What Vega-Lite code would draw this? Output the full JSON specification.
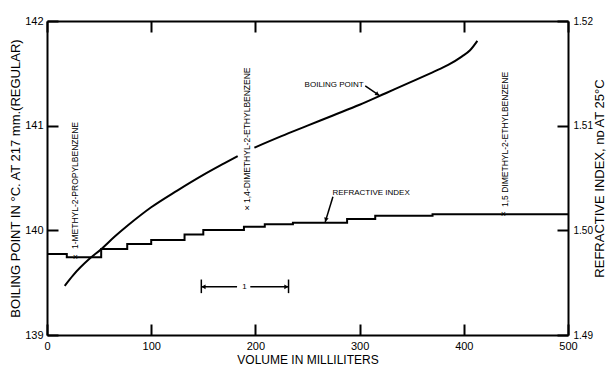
{
  "$schema": "https://vega.github.io/schema/vega-lite/v6.json",
  "width": 521,
  "height": 314,
  "autosize": "none",
  "padding": {"left": 47, "top": 21, "right": 39, "bottom": 32},
  "background": "white",
  "config": {
    "view": {"stroke": null},
    "font": "Liberation Sans",
    "axis": {
      "domainColor": "black", "domainWidth": 2,
      "tickColor": "black", "tickWidth": 2, "tickSize": -11,
      "labelColor": "black", "labelFont": "Liberation Sans", "labelFontSize": 11,
      "titleColor": "black", "titleFont": "Liberation Sans", "titleFontWeight": "normal",
      "grid": false
    }
  },
  "datasets": {
    "bp": [
      {"x": 17, "bp": 139.47, "seg": "a"}, {"x": 25, "bp": 139.57, "seg": "a"}, {"x": 41, "bp": 139.73, "seg": "a"},
      {"x": 52, "bp": 139.82, "seg": "a"}, {"x": 65, "bp": 139.94, "seg": "a"}, {"x": 78, "bp": 140.05, "seg": "a"},
      {"x": 100, "bp": 140.22, "seg": "a"}, {"x": 125, "bp": 140.38, "seg": "a"}, {"x": 150, "bp": 140.53, "seg": "a"},
      {"x": 170, "bp": 140.64, "seg": "a"}, {"x": 183, "bp": 140.71, "seg": "a"},
      {"x": 199, "bp": 140.79, "seg": "b"}, {"x": 225, "bp": 140.9, "seg": "b"}, {"x": 250, "bp": 141.0, "seg": "b"},
      {"x": 275, "bp": 141.1, "seg": "b"}, {"x": 300, "bp": 141.2, "seg": "b"},
      {"x": 325, "bp": 141.31, "seg": "b"}, {"x": 350, "bp": 141.42, "seg": "b"},
      {"x": 370, "bp": 141.51, "seg": "b"}, {"x": 385, "bp": 141.58, "seg": "b"},
      {"x": 398, "bp": 141.66, "seg": "b"}, {"x": 406, "bp": 141.72, "seg": "b"}, {"x": 413, "bp": 141.81, "seg": "b"}
    ],
    "ri": [
      {"x": 0, "ri": 1.49774}, {"x": 19, "ri": 1.49742}, {"x": 52, "ri": 1.49821}, {"x": 77, "ri": 1.49869},
      {"x": 100, "ri": 1.49907}, {"x": 132, "ri": 1.4996}, {"x": 150, "ri": 1.50003}, {"x": 189, "ri": 1.50034},
      {"x": 209, "ri": 1.50057}, {"x": 236, "ri": 1.50073}, {"x": 288, "ri": 1.50108}, {"x": 315, "ri": 1.50139},
      {"x": 370, "ri": 1.50153}, {"x": 500, "ri": 1.50156}
    ],
    "xmarks": [
      {"x": 27.3, "ri": 1.49745}, {"x": 192, "ri": 1.5021}, {"x": 438, "ri": 1.50156}
    ],
    "vlabels": [
      {"x": 27.3, "ri": 1.49821, "label": "1-METHYL-2-PROPYLBENZENE"},
      {"x": 192, "ri": 1.50261, "label": "1,4-DIMETHYL-2-ETHYLBENZENE"},
      {"x": 439.5, "ri": 1.50223, "label": "1,5 DIMETHYL-2-ETHYLBENZENE"}
    ],
    "hlabels": [
      {"x": 275.6, "bp": 141.39, "label": "BOILING POINT"},
      {"x": 311, "bp": 140.36, "label": "REFRACTIVE INDEX"},
      {"x": 189.4, "bp": 139.46, "label": "1"}
    ],
    "leaders": [
      {"x": 305.4, "bp": 141.38, "x2": 318.8, "bp2": 141.29},
      {"x": 274.4, "bp": 140.32, "x2": 267, "bp2": 140.08},
      {"x": 148.1, "bp": 139.46, "x2": 182.4, "bp2": 139.46},
      {"x": 195.1, "bp": 139.46, "x2": 231.8, "bp2": 139.46},
      {"x": 148.1, "bp": 139.53, "x2": 148.1, "bp2": 139.4},
      {"x": 231.8, "bp": 139.53, "x2": 231.8, "bp2": 139.4}
    ],
    "arrows": [
      {"x": 317.2, "bp": 141.3, "dir": 35.5},
      {"x": 267.6, "bp": 140.1, "dir": 107},
      {"x": 150.2, "bp": 139.46, "dir": 180},
      {"x": 229.7, "bp": 139.46, "dir": 0}
    ]
  },
  "layer": [
    {
      "encoding": {
        "x": {"field": "x", "type": "quantitative", "scale": {"domain": [0, 500], "nice": false, "zero": false},
          "axis": {"orient": "bottom", "values": [0, 100, 200, 300, 400, 500], "labelFlush": false, "labelPadding": 16,
            "title": "VOLUME IN MILLILITERS", "titleFontSize": 12, "titlePadding": 3}},
        "y": {"field": "bp", "type": "quantitative", "scale": {"domain": [139, 142], "nice": false, "zero": false},
          "axis": {"orient": "left", "values": [139, 140, 141, 142], "format": "d", "labelPadding": 15,
            "title": "BOILING POINT IN °C. AT 217 mm.(REGULAR)", "titleFontSize": 13, "titlePadding": 2}}
      },
      "layer": [
        {
          "data": {"name": "bp"},
          "mark": {"type": "line", "color": "black", "strokeWidth": 2, "interpolate": "monotone"},
          "encoding": {"detail": {"field": "seg"}}
        },
        {
          "data": {"name": "leaders"},
          "mark": {"type": "rule", "color": "black", "strokeWidth": 1.5},
          "encoding": {"x2": {"field": "x2"}, "y2": {"field": "bp2"}}
        },
        {
          "data": {"name": "arrows"},
          "mark": {"type": "point", "shape": "triangle-right", "filled": true, "color": "black", "size": 22, "opacity": 1},
          "encoding": {"angle": {"field": "dir", "type": "quantitative", "scale": null}}
        },
        {
          "data": {"name": "hlabels"},
          "mark": {"type": "text", "color": "black", "fontSize": 8, "font": "Liberation Sans", "align": "center", "baseline": "middle"},
          "encoding": {"text": {"field": "label"}}
        }
      ]
    },
    {
      "encoding": {
        "x": {"field": "x", "type": "quantitative", "scale": {"domain": [0, 500], "nice": false, "zero": false},
          "axis": {"orient": "top", "values": [0, 100, 200, 300, 400, 500], "labels": false, "title": null}},
        "y": {"field": "ri", "type": "quantitative", "scale": {"domain": [1.49, 1.52], "nice": false, "zero": false},
          "axis": {"orient": "right", "values": [1.49, 1.5, 1.51, 1.52], "format": ".2f", "labelPadding": 16, "labelFontSize": 10,
            "title": "REFRACTIVE INDEX, nᴅ AT 25°C", "titleFontSize": 13, "titleAngle": 270, "titleBaseline": "top", "titlePadding": 1}}
      },
      "layer": [
        {
          "data": {"name": "ri"},
          "mark": {"type": "line", "color": "black", "strokeWidth": 2, "interpolate": "step-after"}
        },
        {
          "data": {"name": "xmarks"},
          "mark": {"type": "text", "text": "×", "color": "black", "fontSize": 9, "font": "Liberation Sans", "align": "center", "baseline": "middle"}
        },
        {
          "data": {"name": "vlabels"},
          "mark": {"type": "text", "color": "black", "fontSize": 8.5, "font": "Liberation Sans", "angle": 270, "align": "left", "baseline": "middle"},
          "encoding": {"text": {"field": "label"}}
        }
      ]
    }
  ],
  "resolve": {"scale": {"x": "independent", "y": "independent"}}
}
